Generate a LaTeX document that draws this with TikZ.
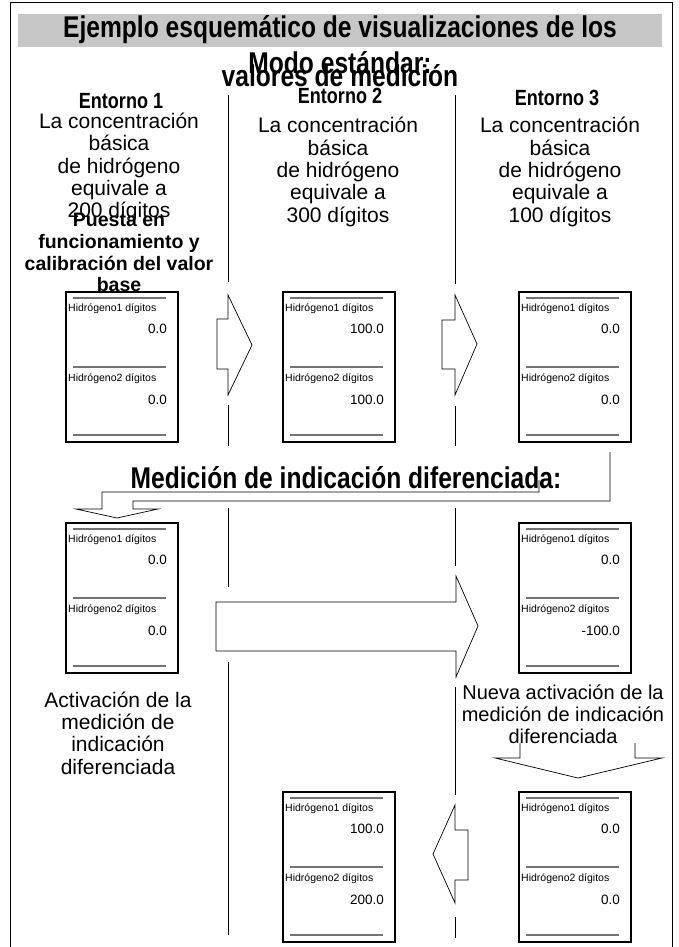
\documentclass[tikz,border=0pt]{standalone}
\usepackage{fontspec}
\setmainfont{Liberation Sans}
\newfontfamily\angosta[FakeStretch=0.82]{Liberation Sans}

% Anzeige: Name, Ecke oben links, Wert 1, Wert 2
\newcommand{\medidor}[4]{%
  \node[caja, anchor=north west] (#1) at (#2) {};
  \draw[raya] ([shift={(7,6)}]#1.north west) -- ([shift={(-12,6)}]#1.north east);
  \node[etiq] (#1e1) at ([shift={(2,17)}]#1.north west) {Hidrógeno1 dígitos};
  \node[valor] (#1v1) at ([shift={(-11,37)}]#1.north east) {#3};
  \draw[raya] ([shift={(7,75)}]#1.north west) -- ([shift={(-12,75)}]#1.north east);
  \node[etiq] (#1e2) at ([shift={(2,87)}]#1.north west) {Hidrógeno2 dígitos};
  \node[valor] (#1v2) at ([shift={(-11,108)}]#1.north east) {#4};
  \draw[raya] ([shift={(7,143)}]#1.north west) -- ([shift={(-12,143)}]#1.north east);
}

\begin{document}
\begin{tikzpicture}[x=1pt,y=-1pt,
    caja/.style={draw, line width=1.6pt, minimum width=112pt, minimum height=150pt, inner sep=0pt, outer sep=0pt},
    raya/.style={draw=black!55, line width=1.4pt},
    etiq/.style={font=\fontsize{10.5}{12}\selectfont, anchor=west, inner sep=0pt},
    valor/.style={font=\fontsize{13.5}{16}\selectfont, anchor=east, inner sep=0pt},
    titulo/.style={font=\angosta\bfseries\fontsize{30}{32}\selectfont, inner sep=0pt},
    encabezado/.style={font=\angosta\bfseries\fontsize{22}{24}\selectfont, inner sep=0pt},
    cuerpo/.style={font=\fontsize{21}{22.3}\selectfont, align=center, inner sep=0pt},
    negrita/.style={font=\bfseries\fontsize{19.5}{21.8}\selectfont, align=center, inner sep=0pt},
    flecha/.style={draw, line width=0.7pt, line join=miter},
    divisor/.style={line width=0.8pt}]
    \useasboundingbox (0,0) rectangle (679,947);

    % Rahmen und Titelbalken
    \draw[line width=1pt] (10,947) -- (10,3) -- (672,3) -- (672,947);
    \fill[black!22] (18,14) rectangle (662,47);
    \node[titulo] (titulo) at (340,30) {Ejemplo esquemático de visualizaciones de los};

    % Trennlinien
    \foreach \a/\b in {95/282, 405/446, 508/587, 662/935}
      \draw[divisor] (228,\a) -- (228,\b);
    \foreach \a/\b in {95/284, 406/446, 508/566, 687/795, 917/938}
      \draw[divisor] (455,\a) -- (455,\b);

    % Kopf
    \node[titulo] (modo) at (340,63) {Modo estándar:};
    \node[titulo] (valores) at (340,76) {valores de medición};
    \node[encabezado] (ent1) at (121,101) {Entorno 1};
    \node[encabezado] (ent2) at (340,96) {Entorno 2};
    \node[encabezado] (ent3) at (557,98) {Entorno 3};
    \node[cuerpo] (conc1) at (119,167.5) {La concentración\\básica\\de hidrógeno\\equivale a\\200 dígitos};
    \node[cuerpo] (conc2) at (338,172) {La concentración\\básica\\de hidrógeno\\equivale a\\300 dígitos};
    \node[cuerpo] (conc3) at (560,172) {La concentración\\básica\\de hidrógeno\\equivale a\\100 dígitos};
    \node[negrita] (puesta) at (119,252.5) {Puesta en\\funcionamiento y\\calibración del valor\\base};

    % Anzeigen
    \medidor{m1}{66,292}{0.0}{0.0}
    \medidor{m2}{283,292}{100.0}{100.0}
    \medidor{m3}{519,292}{0.0}{0.0}
    \medidor{m4}{66,523}{0.0}{0.0}
    \medidor{m5}{519,523}{0.0}{-100.0}
    \medidor{m6}{283,792}{100.0}{200.0}
    \medidor{m7}{519,792}{0.0}{0.0}

    % Blockpfeile
    \draw[flecha] (217,319) -- (228,319) -- (228,295) -- (252,345) -- (228,395) -- (228,369) -- (217,369) -- cycle;
    \draw[flecha] (442,320) -- (455,320) -- (455,295) -- (477,344) -- (455,395) -- (455,369) -- (442,369) -- cycle;
    \draw[flecha] (216,602) -- (456,602) -- (456,576) -- (478,626) -- (456,677) -- (456,651) -- (216,651) -- cycle;
    \draw[flecha] (468,830) -- (455,830) -- (455,805) -- (433,854) -- (455,903) -- (455,880) -- (468,880) -- cycle;
    \draw[flecha] (539,480) -- (539,492) -- (102,492) -- (102,509) -- (76,509) -- (117,518) -- (158,509)
      -- (133,509) -- (133,501) -- (610,501) -- (610,452);
    \draw[flecha] (520,743) -- (520,758) -- (495,758) -- (578,778) -- (662,758) -- (635,758) -- (635,743);

    % Differenzanzeige
    \node[titulo] (medicion) at (346,478) {Medición de indicación diferenciada:};
    \node[cuerpo] (activ) at (118,733) {Activación de la\\medición de\\indicación\\diferenciada};
    \node[cuerpo, font=\fontsize{20}{22}\selectfont] (nueva) at (563,714) {Nueva activación de la\\medición de indicación\\diferenciada};
  \end{tikzpicture}
\end{document}
